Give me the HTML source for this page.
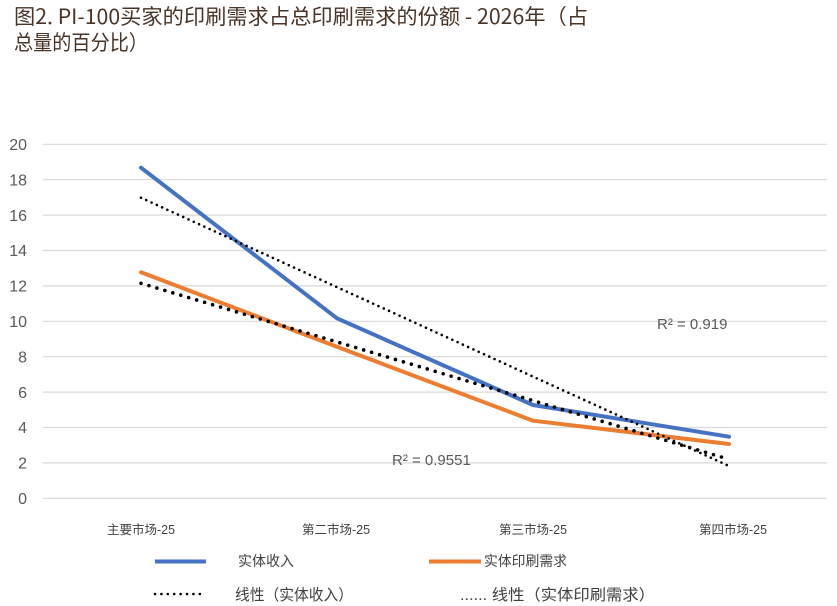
<!DOCTYPE html>
<html>
<head>
<meta charset="utf-8">
<style>
html,body{margin:0;padding:0;background:#fff;}
svg{display:block;}
</style>
</head>
<body>
<svg width="837" height="606" viewBox="0 0 837 606" xmlns="http://www.w3.org/2000/svg">
<rect width="837" height="606" fill="#fff"/>
<!-- Title -->
<g font-family="'Noto Sans CJK SC','Liberation Sans',sans-serif" font-size="21" fill="#4a3426">
<text x="14" y="24" textLength="574" lengthAdjust="spacingAndGlyphs">图2. PI-100买家的印刷需求占总印刷需求的份额 - 2026年（占</text>
<text x="14" y="50" textLength="134" lengthAdjust="spacingAndGlyphs">总量的百分比）</text>
</g>
<!-- Gridlines -->
<g stroke="#d9d9d9" stroke-width="1.2">
<line x1="43" x2="827" y1="144.3" y2="144.3"/>
<line x1="43" x2="827" y1="179.7" y2="179.7"/>
<line x1="43" x2="827" y1="215.1" y2="215.1"/>
<line x1="43" x2="827" y1="250.5" y2="250.5"/>
<line x1="43" x2="827" y1="285.9" y2="285.9"/>
<line x1="43" x2="827" y1="321.3" y2="321.3"/>
<line x1="43" x2="827" y1="356.7" y2="356.7"/>
<line x1="43" x2="827" y1="392.1" y2="392.1"/>
<line x1="43" x2="827" y1="427.5" y2="427.5"/>
<line x1="43" x2="827" y1="462.9" y2="462.9"/>
<line x1="43" x2="827" y1="498.3" y2="498.3"/>
</g>
<!-- Y labels -->
<g font-family="'Liberation Sans',sans-serif" font-size="16" fill="#595959" text-anchor="end">
<text x="27" y="150">20</text>
<text x="27" y="185.4">18</text>
<text x="27" y="220.8">16</text>
<text x="27" y="256.2">14</text>
<text x="27" y="291.6">12</text>
<text x="27" y="327">10</text>
<text x="27" y="362.4">8</text>
<text x="27" y="397.8">6</text>
<text x="27" y="433.2">4</text>
<text x="27" y="468.6">2</text>
<text x="27" y="504">0</text>
</g>
<!-- X labels -->
<g font-family="'Liberation Sans','Noto Sans CJK SC',sans-serif" font-size="12.5" fill="#404040" text-anchor="middle">
<text x="141" y="534">主要市场-25</text>
<text x="336" y="534">第二市场-25</text>
<text x="533" y="534">第三市场-25</text>
<text x="733" y="534">第四市场-25</text>
</g>
<!-- Series -->
<polyline points="141,167.7 337,318.3 533,405 729,436.7" fill="none" stroke="#4472C4" stroke-width="4" stroke-linejoin="round" stroke-linecap="round"/>
<polyline points="141,272.3 337,346.8 533,420.7 729,444" fill="none" stroke="#ED7D31" stroke-width="4" stroke-linejoin="round" stroke-linecap="round"/>
<!-- Trendlines -->
<line x1="141" y1="197.7" x2="729" y2="466" stroke="#000" stroke-width="2.6" stroke-dasharray="0 5.8" stroke-linecap="round"/>
<line x1="141" y1="283.3" x2="729" y2="459.3" stroke="#000" stroke-width="3.6" stroke-dasharray="0 8.3" stroke-linecap="round"/>
<!-- R² labels -->
<g font-family="'Liberation Sans',sans-serif" font-size="15" fill="#595959">
<text x="657" y="329">R² = 0.919</text>
<text x="392" y="465">R² = 0.9551</text>
</g>
<!-- Legend -->
<line x1="155" y1="561.5" x2="206" y2="561.5" stroke="#4472C4" stroke-width="4"/>
<line x1="429" y1="561.5" x2="481" y2="561.5" stroke="#ED7D31" stroke-width="4"/>
<line x1="155" y1="594" x2="206" y2="594" stroke="#000" stroke-width="2.6" stroke-dasharray="0 6.4" stroke-linecap="round"/>
<g font-family="'Liberation Sans','Noto Sans CJK SC',sans-serif" font-size="14" fill="#404040">
<text x="238" y="566" textLength="56" lengthAdjust="spacingAndGlyphs">实体收入</text>
<text x="484" y="566" textLength="83" lengthAdjust="spacingAndGlyphs">实体印刷需求</text>
<text x="235" y="600" font-size="15.5" textLength="118" lengthAdjust="spacingAndGlyphs">线性（实体收入）</text>
<text x="460" y="600" font-size="15.5" textLength="195" lengthAdjust="spacingAndGlyphs">...... 线性（实体印刷需求）</text>
</g>
</svg>
</body>
</html>
